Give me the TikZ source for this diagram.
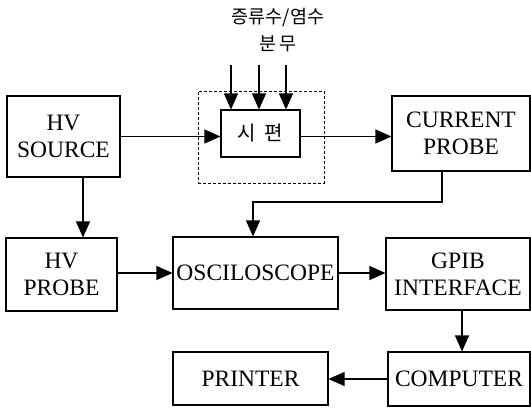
\documentclass[tikz,border=0pt]{standalone}
\usepackage{fontspec}
\setmainfont{Liberation Serif}
\newfontfamily\kofont{Noto Sans CJK KR}
\usetikzlibrary{arrows.meta}
\begin{document}
\begin{tikzpicture}[x=1pt,y=-1pt,
  box/.style={draw,line width=1.1pt,inner sep=0pt,align=center,
    font=\fontsize{23.5}{27}\selectfont},
  arr/.style={line width=1.2pt,-{Triangle[length=16pt,width=14pt]}},
  kor/.style={font=\kofont\fontsize{18.5}{20}\selectfont,inner sep=0pt}]
\clip (0,0) rectangle (531,408);
\fill[white] (0,0) rectangle (531,408);
% dashed frame
\node[draw,line width=1pt,dash pattern=on 3pt off 2pt,minimum width=126pt,minimum height=92pt,inner sep=0pt] (dbox) at (261,137) {};
% boxes
\node[box,minimum width=113pt,minimum height=81pt] (src) at (63.5,136.5) {HV\\SOURCE};
\node[box,minimum width=111pt,minimum height=73pt] (hvp) at (61.5,274.5) {HV\\PROBE};
\node[box,minimum width=79pt,minimum height=47pt,font=\kofont\fontsize{20}{22}\selectfont] (spec) at (260.5,133.5) {시\hspace{0.45em}편};
\node[box,minimum width=138pt,minimum height=75pt] (cur) at (461,133.5) {CURRENT\\PROBE};
\node[box,minimum width=165pt,minimum height=72pt] (osc) at (255.5,273) {OSCILOSCOPE};
\node[box,minimum width=144pt,minimum height=72pt] (gpib) at (458,274) {GPIB\\INTERFACE};
\node[box,minimum width=142pt,minimum height=54pt] (comp) at (459,379) {COMPUTER};
\node[box,minimum width=155pt,minimum height=53pt] (prn) at (250.5,378.5) {PRINTER};
% korean label
\node[kor] (t1) at (278,18) {증류수/염수};
\node[kor] (t2) at (278,44) {분\hspace{0.15em}무};
% spray arrows
\coordinate (a1) at (231,65);
\coordinate (a2) at (259,65);
\coordinate (a3) at (286,65);
\draw[arr] (a1) -- (a1 |- spec.north);
\draw[arr] (a2) -- (a2 |- spec.north);
\draw[arr] (a3) -- (a3 |- spec.north);
% connectors
\draw[arr] (src.east) -- (src.east -| spec.west);
\draw[arr] (spec.east |- src.east) -- (src.east -| cur.west);
\draw[arr] ([xshift=19.5pt]src.south) -- ([xshift=19.5pt]src.south |- hvp.north);
\draw[arr] (osc.west -| hvp.east) -- (osc.west);
\draw[arr] (osc.east) -- (osc.east -| gpib.west);
\coordinate (j) at (442,202);
\draw[arr] (j |- cur.south) -- (j) -| ([xshift=-2.5pt]osc.north);
\draw[arr] ([xshift=4pt]gpib.south) -- ([xshift=4pt]gpib.south |- comp.north);
\draw[arr] (comp.west) -- (comp.west -| prn.east);
\end{tikzpicture}
\end{document}
